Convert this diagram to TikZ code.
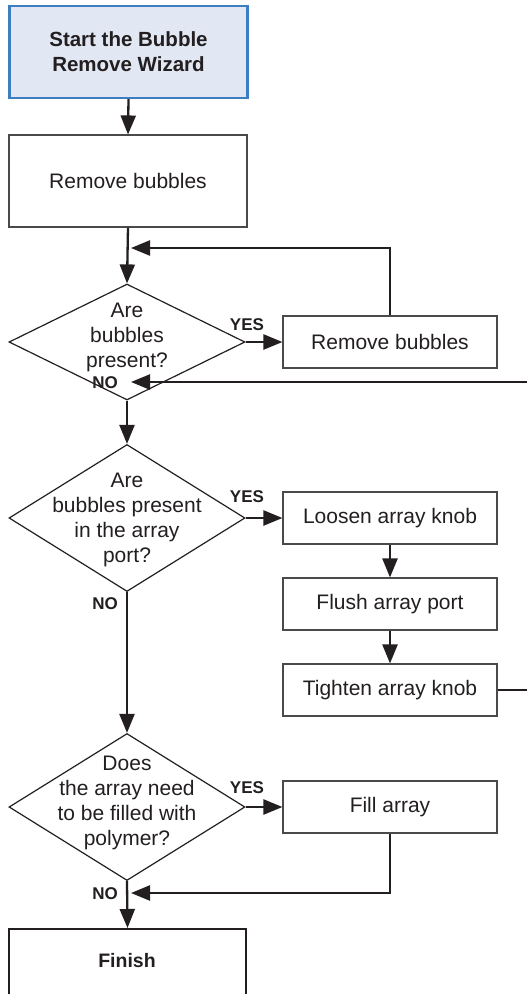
\documentclass[tikz,border=0pt]{standalone}
\usepackage{fontspec}
\setmainfont{Liberation Sans}
\usetikzlibrary{arrows.meta,shapes.geometric}
\definecolor{ink}{HTML}{231F20}
\definecolor{boxline}{HTML}{4A4A4A}
\definecolor{startfill}{HTML}{E2E8F3}
\definecolor{startline}{HTML}{3D7EC1}
\tikzset{
  conn/.style={line width=2.3pt, draw=ink, -{Triangle[length=19pt,width=15pt]}},
  plainconn/.style={line width=2.3pt, draw=ink},
  stepbox/.style={draw=boxline, line width=1.1pt, fill=white, rectangle, inner sep=0pt,
    minimum width=214pt, minimum height=52pt, font=\fontsize{21}{25}\selectfont, text=ink},
  bigbox/.style={draw=boxline, line width=1.1pt, fill=white, rectangle, inner sep=0pt,
    minimum width=238pt, minimum height=92pt, font=\fontsize{21}{25}\selectfont, text=ink},
  startbox/.style={draw=startline, line width=2.2pt, fill=startfill, rectangle, inner sep=0pt,
    minimum width=238pt, minimum height=92pt, align=center,
    font=\fontsize{20.5}{25}\selectfont\bfseries, text=ink},
  finbox/.style={draw=ink, line width=2.2pt, fill=white, rectangle, inner sep=0pt,
    minimum width=237pt, minimum height=90pt, anchor=north},
  dia/.style={draw=ink, line width=1.2pt, diamond, inner sep=0pt, minimum width=236pt},
  dtext/.style={align=center, font=\fontsize{21}{25}\selectfont, text=ink, inner sep=0pt},
  lab/.style={font=\fontsize{17}{20}\selectfont\bfseries, text=ink, inner sep=0pt},
  fintext/.style={font=\fontsize{19.5}{24}\selectfont\bfseries, text=ink, inner sep=0pt}
}
\begin{document}
\begin{tikzpicture}[x=1pt,y=-1pt]
\useasboundingbox (0,0) rectangle (527,994);
\clip (0,0) rectangle (527,994);
\fill[white] (0,0) rectangle (527,994);

% boxes
\node[startbox] (start) at (128.5,52) {Start the Bubble\\Remove Wizard};
\node[bigbox] (rb1) at (128,181) {Remove bubbles};

\node[dia, minimum height=116pt] (d1) at (127,342) {};
\node[dtext] (d1t) at (127,337) {Are\\bubbles\\present?};
\node[stepbox] (rb2) at (390,342) {Remove bubbles};

\node[dia, minimum height=147pt] (d2) at (127,518) {};
\node[dtext] (d2t) at (127,520) {Are\\bubbles present\\in the array\\port?};
\node[stepbox] (loosen) at (390,518) {Loosen array knob};
\node[stepbox] (flush) at (390,604) {Flush array port};
\node[stepbox] (tighten) at (390,690) {Tighten array knob};

\node[dia, minimum height=147pt] (d3) at (127,807) {};
\node[dtext] (d3t) at (127,803) {Does\\the array need\\to be filled with\\polymer?};
\node[stepbox] (fill) at (390,807) {Fill array};

\node[finbox] (fin) at (127.5,928) {};
\node[fintext] (fint) at (127,961) {Finish};

% junctions
\coordinate (j1) at (131,248);
\coordinate (j2) at (131,382);
\coordinate (j3) at (131,893);
\coordinate (edge1) at (545,690);
\coordinate (edge2) at (545,382);

% connectors
\draw[conn] (start.south) -- (rb1.north);
\draw[conn] (rb1.south) -- (d1.north);
\draw[conn] (rb2.north) |- (j1);
\draw[conn] (d1.east) -- (rb2.west);
\draw[conn] (d1.south) -- (d2.north);
\draw[conn] (tighten.east) -- (edge1) -- (edge2) -- (j2);
\draw[conn] (d2.east) -- (loosen.west);
\draw[conn] (loosen.south) -- (flush.north);
\draw[conn] (flush.south) -- (tighten.north);
\draw[conn] (d2.south) -- (d3.north);
\draw[conn] (d3.east) -- (fill.west);
\draw[conn] (fill.south) |- (j3);
\draw[conn] (d3.south) -- (fin.north);

% labels
\node[lab] (y1) at (247,325) {YES};
\node[lab] (y2) at (247,497) {YES};
\node[lab] (y3) at (247,788) {YES};
\node[lab] (n1) at (105,383) {NO};
\node[lab] (n2) at (105,604) {NO};
\node[lab] (n3) at (105,894) {NO};
\end{tikzpicture}
\end{document}
